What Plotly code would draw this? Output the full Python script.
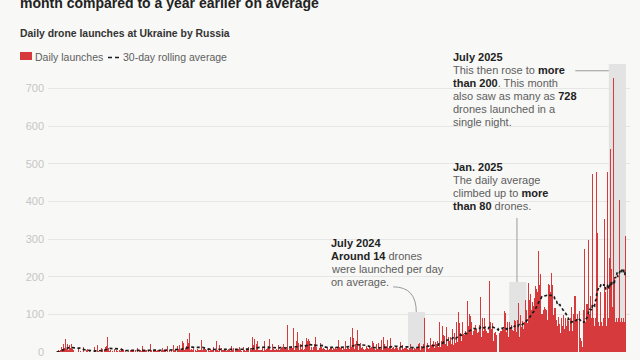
import pandas as pd
import plotly.graph_objects as go

# ---------------- data (daily drone launches) ----------------
start_date = "2022-10-01"

launches_2022 = [
    # Oct
    0, 0, 2, 0, 5, 3, 0, 4, 0, 12, 18, 8, 15, 22, 10, 30, 35, 12, 8, 25, 20, 14, 6, 28, 18, 10, 5, 20, 12, 8, 15,
    # Nov
    5, 2, 0, 0, 8, 0, 3, 0, 0, 10, 4, 0, 0, 2, 0, 6, 0, 0, 12, 3, 0, 0, 0, 5, 0, 8, 2, 0, 0, 4,
    # Dec
    0, 0, 3, 0, 0, 6, 0, 0, 12, 15, 4, 0, 0, 18, 0, 3, 0, 0, 22, 0, 0, 10, 34, 8, 0, 0, 6, 0, 14, 24, 16,
]
launches_2023 = [
    # Jan
    43, 39, 10, 3, 2, 0, 5, 5, 0, 4, 3, 8, 0, 8, 2, 0, 6, 4, 0, 3, 6, 0, 4, 0, 2, 7, 10, 0, 5, 23, 4,
    # Feb
    3, 0, 5, 2, 0, 4, 0, 8, 3, 12, 0, 5, 2, 4, 25, 6, 0, 3, 8, 0, 2, 6, 0, 4, 10, 3, 0, 2,
    # Mar
    4, 0, 6, 3, 8, 15, 0, 5, 4, 2, 0, 6, 18, 4, 0, 3, 3, 7, 0, 4, 20, 15, 6, 0, 3, 5, 8, 2, 8, 4, 0,
    # Apr
    3, 0, 5, 4, 0, 6, 2, 0, 6, 3, 0, 10, 4, 0, 5, 15, 2, 6, 0, 12, 15, 4, 0, 6, 3, 0, 8, 5, 2, 0,
    # May
    22, 18, 6, 8, 4, 10, 0, 20, 15, 5, 8, 3, 18, 6, 6, 4, 12, 30, 5, 25, 8, 4, 10, 6, 16, 9, 35, 30, 24, 10, 51,
    # Jun
    12, 5, 8, 0, 6, 10, 12, 4, 0, 7, 5, 3, 34, 8, 0, 6, 10, 4, 20, 5, 4, 32, 6, 0, 8, 5, 10, 3, 8, 6,
    # Jul
    5, 0, 6, 10, 8, 3, 0, 9, 4, 6, 0, 6, 12, 4, 0, 8, 5, 20, 28, 15, 6, 3, 8, 18, 5, 0, 7, 10, 4, 6, 3,
    # Aug
    4, 8, 0, 5, 6, 3, 25, 6, 0, 8, 4, 10, 3, 0, 15, 6, 4, 8, 10, 3, 0, 6, 9, 4, 20, 5, 0, 8, 6, 12, 4,
    # Sep
    6, 3, 8, 0, 10, 12, 4, 6, 9, 3, 8, 30, 5, 4, 12, 6, 0, 9, 10, 6, 28, 40, 8, 18, 6, 35, 10, 5, 12, 20,
    # Oct
    30, 8, 6, 22, 5, 10, 4, 12, 6, 10, 8, 3, 9, 28, 6, 4, 12, 8, 5, 10, 15, 6, 35, 8, 4, 12, 6, 25, 20, 9, 5,
    # Nov
    6, 10, 4, 20, 8, 12, 5, 9, 18, 6, 30, 8, 4, 10, 6, 12, 5, 20, 8, 4, 10, 6, 9, 12, 72, 8, 5, 18, 10, 10,
    # Dec
    8, 15, 6, 10, 12, 63, 8, 5, 10, 12, 28, 9, 54, 8, 25, 12, 6, 10, 20, 8, 40, 28, 10, 6, 12, 8, 5, 15, 36, 10, 30,
]
launches_2024 = [
    # Jan
    90, 35, 8, 28, 10, 6, 12, 8, 5, 10, 14, 6, 20, 9, 40, 8, 12, 5, 10, 6, 33, 10, 8, 24, 6, 12, 9, 5, 10, 40, 8,
    # Feb
    10, 6, 12, 5, 9, 14, 6, 20, 8, 39, 10, 5, 12, 8, 6, 10, 17, 9, 5, 12, 30, 8, 24, 10, 6, 31, 12, 8, 10,
    # Mar
    8, 12, 10, 6, 35, 10, 8, 12, 30, 20, 9, 35, 12, 6, 10, 14, 8, 40, 10, 12, 6, 63, 10, 38, 31, 8, 22, 12, 28, 10, 58,
    # Apr
    10, 6, 12, 20, 8, 25, 10, 5, 12, 17, 8, 10, 6, 12, 9, 15, 5, 10, 14, 8, 6, 12, 8, 10, 5, 12, 28, 8, 24, 10,
    # May
    8, 12, 6, 10, 20, 8, 12, 24, 6, 10, 14, 8, 12, 31, 10, 6, 40, 12, 20, 8, 10, 6, 12, 8, 31, 10, 6, 12, 8, 37, 10,
    # Jun
    8, 24, 10, 6, 12, 8, 54, 10, 6, 12, 8, 10, 20, 6, 12, 8, 27, 10, 6, 12, 19, 13, 8, 25, 10, 10, 6, 12, 15, 8,
    # Jul
    6, 5, 15, 10, 20, 12, 8, 8, 14, 8, 6, 12, 10, 14, 8, 10, 10, 13, 8, 20, 32, 25, 12, 5, 17, 10, 10, 20, 20, 26, 89,
    # Aug
    0, 0, 5, 15, 24, 0, 8, 26, 10, 0, 38, 12, 18, 20, 4, 29, 50, 10, 14, 26, 0, 20, 17, 28, 12, 103, 81, 5, 14, 28, 30,
    # Sep
    35, 70, 45, 20, 42, 78, 22, 8, 67, 43, 15, 25, 40, 30, 61, 40, 38, 20, 15, 60, 45, 18, 50, 44, 25, 39, 79, 32, 26, 73,
    # Oct
    105, 87, 78, 50, 65, 30, 45, 79, 30, 48, 60, 44, 57, 35, 50, 56, 136, 41, 70, 29, 100, 33, 95, 80, 58, 46, 100, 57, 45, 62, 96,
    # Nov
    71, 62, 80, 50, 62, 52, 45, 72, 52, 145, 50, 40, 90, 37, 55, 39, 90, 45, 60, 36, 55, 50, 73, 50, 120, 188, 50, 79, 38, 60,
    # Dec
    40, 76, 30, 45, 50, 53, 52, 46, 45, 110, 0, 0, 190, 50, 65, 55, 70, 56, 40, 65, 104, 60, 110, 55, 103, 37, 52, 31, 81, 16, 40,
]
launches_2025 = [
    # Jan
    81, 111, 60, 61, 72, 103, 59, 64, 56, 74, 84, 82, 56, 54, 106, 85, 50, 130, 100, 39, 99, 72, 66, 131, 82, 106, 60, 80, 81, 77, 139,
    # Feb
    112, 142, 78, 102, 183, 84, 139, 151, 155, 112, 123, 133, 143, 123, 147, 143, 167, 176, 161, 167, 160, 185, 267, 138, 177, 100, 208, 166,
    # Mar
    100, 100, 181, 112, 143, 119, 194, 114, 176, 112, 130, 85, 180, 117, 178, 90, 160, 140, 210, 145, 179, 99, 130, 116, 65, 117, 78, 85, 100, 70, 160,
    # Apr
    92, 74, 112, 51, 48, 90, 50, 70, 85, 98, 60, 80, 90, 40, 70, 95, 88, 64, 83, 60, 55, 90, 40, 120, 100, 55, 103, 100, 120, 149,
    # May
    149, 110, 88, 213, 100, 60, 0, 0, 108, 50, 38, 30, 10, 14, 90, 112, 40, 273, 112, 80, 128, 112, 128, 250, 298, 355, 100, 88, 150, 95, 90,
    # Jun
    472, 80, 90, 150, 70, 407, 90, 180, 479, 315, 120, 80, 150, 70, 90, 160, 440, 80, 70, 120, 90, 60, 352, 110, 160, 80, 70, 200, 477, 90,
    # Jul
    100, 250, 80, 539, 90, 220, 80, 120, 728, 90, 200, 597, 80, 200, 90, 483, 80, 180, 90, 403, 110, 80, 230, 90, 394, 80, 200, 90, 80, 120, 309,
]

highlight_months = ["2024-07-01", "2025-01-01", "2025-07-01"]
highlight_tops = [106, 186, 765]

y_tick_values = [0, 100, 200, 300, 400, 500, 600, 700]
y_range = [0, 765]
x_range = ["2022-09-15 12:00", "2025-08-08 12:00"]

title_text = "month compared to a year earlier on average"
subtitle_text = "Daily drone launches at Ukraine by Russia"
bar_name = "Daily launches"
avg_name = "30-day rolling average"

# ---------------- build ----------------
values = launches_2022 + launches_2023 + launches_2024 + launches_2025
dates = pd.date_range(start_date, periods=len(values), freq="D")
series = pd.Series(values, index=dates, dtype=float)
rolling = series.rolling(30, min_periods=1).mean()

W, H = 640, 360
L, R, T, B = 48, 10, 64, 8
PW, PH = W - L - R, H - T - B

BG = "#f8f8f6"
RED = "#d63a3c"
FONT = "Liberation Sans, Arial, sans-serif"
DARK = "#222222"
GRAY = "#5e5e5e"


def px_x(px):
    return (px - L) / PW


def px_y(py):
    return (H - B - py) / PH


fig = go.Figure()
fig.add_trace(go.Bar(
    x=dates, y=series.values, width=86400000, name=bar_name,
    marker=dict(color=RED, line=dict(width=0)), showlegend=False,
))
fig.add_trace(go.Scatter(
    x=dates, y=rolling.values, mode="lines", name=avg_name,
    line=dict(color="#1b1b1b", width=1.7, dash="3px,2.5px"), showlegend=False,
))

# highlighted months
for m, top in zip(highlight_months, highlight_tops):
    m0 = pd.Timestamp(m)
    m1 = m0 + pd.offsets.MonthBegin(1)
    fig.add_shape(type="rect", xref="x", yref="y", x0=m0, x1=m1, y0=0, y1=top,
                  fillcolor="#e3e3e3", line=dict(width=0), layer="between")

ann_line = dict(color="#9a9a9a", width=1)
# July 2025 leader (horizontal)
fig.add_shape(type="line", xref="x", yref="y", x0="2025-05-01", x1="2025-07-01", y0=747, y1=747, line=ann_line)
# Jan 2025 leader (vertical)
fig.add_shape(type="line", xref="x", yref="y", x0="2025-01-15", x1="2025-01-15", y0=186, y1=356, line=ann_line)
# July 2024 leader (curved)
fig.add_shape(type="path", xref="x", yref="y",
              path="M 2024-06-04,173 Q 2024-07-16,173 2024-07-16,106", line=ann_line)


def add_text(x_px, y_px, text, size=11, color=GRAY, bold=False):
    if bold:
        text = "<b>" + text + "</b>"
    fig.add_annotation(xref="paper", yref="paper", x=px_x(x_px), y=px_y(y_px), text=text,
                       showarrow=False, xanchor="left", yanchor="middle", align="left",
                       borderpad=0, borderwidth=0,
                       font=dict(family=FONT, size=size, color=color))


def b(t):
    return "<span style='color:%s'><b>%s</b></span>" % (DARK, t)


def block(x_px, y0_px, head, lines, step=13):
    add_text(x_px, y0_px, head, size=11, color=DARK, bold=True)
    for i, ln in enumerate(lines):
        add_text(x_px, y0_px + step * (i + 1), ln, size=11, color=GRAY)


block(453, 57, "July 2025", [
    "This then rose to " + b("more"),
    b("than 200") + ". This month",
    "also saw as many as " + b("728"),
    "drones launched in a",
    "single night.",
])
block(453, 167, "Jan. 2025", [
    "The daily average",
    "climbed up to " + b("more"),
    b("than 80") + " drones.",
])
block(331, 243, "July 2024", [
    b("Around 14") + " drones",
    "were launched per day",
    "on average.",
])

# title / subtitle
add_text(20, 3, title_text, size=14, color=DARK, bold=True)
add_text(20, 33, subtitle_text, size=10.4, color="#333333", bold=True)

# legend (drawn manually)
fig.add_shape(type="rect", xref="paper", yref="paper", x0=px_x(20), x1=px_x(32), y0=px_y(60), y1=px_y(52),
              fillcolor=RED, line=dict(width=0))
add_text(35, 57, bar_name, size=10.5, color=GRAY)
fig.add_shape(type="line", xref="paper", yref="paper", x0=px_x(108), x1=px_x(120), y0=px_y(57.5), y1=px_y(57.5),
              line=dict(color="#1b1b1b", width=1.5, dash="4px,3px"))
add_text(123, 57, avg_name, size=10.5, color=GRAY)

fig.update_layout(
    width=W, height=H, margin=dict(l=L, r=R, t=T, b=B, pad=0, autoexpand=False),
    paper_bgcolor=BG, plot_bgcolor=BG, bargap=0, showlegend=False,
    font=dict(family=FONT),
)
fig.update_xaxes(range=x_range, showgrid=False, showticklabels=False, zeroline=False, showline=False, ticks="",
                 automargin=False)
fig.update_yaxes(range=y_range, tickvals=y_tick_values, showgrid=True, gridcolor="#e6e6e6", gridwidth=1,
                 zeroline=False, showline=False, ticks="", automargin=False, ticklabelstandoff=3,
                 tickfont=dict(family=FONT, size=11, color="#c6c6c6"))

fig.write_html("out.html", config={"staticPlot": True},
               post_script="document.body.style.margin='0';document.body.style.background='%s';" % BG)
